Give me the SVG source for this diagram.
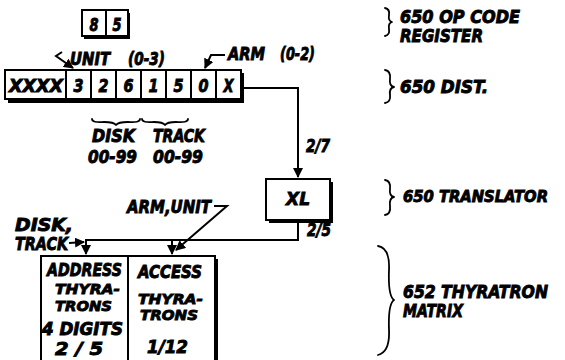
<svg xmlns="http://www.w3.org/2000/svg" width="565" height="360" viewBox="0 0 565 360">
<defs>
<style>
text{font-family:"DejaVu Sans","Liberation Sans",sans-serif;font-weight:bold;font-style:italic;fill:#000;stroke:#000;stroke-width:0.9;font-size:17px}
.c{text-anchor:middle}
.s{font-size:14px}
.m{font-size:15px}
.box{fill:#fff;stroke:#000;stroke-width:2}
.sh{fill:#000}
.ln{fill:none;stroke:#000;stroke-width:2}
.br{fill:none;stroke:#000;stroke-width:1.8;stroke-linecap:round;stroke-linejoin:round}
</style>
<marker id="ah" viewBox="0 0 10 10" refX="9" refY="5" markerWidth="5" markerHeight="5" orient="auto"><path d="M0,0 L10,5 L0,10 z" fill="#000"/></marker>
</defs>
<rect width="565" height="360" fill="#fff"/>

<g id="opcode">
<rect class="sh" x="84" y="13" width="46" height="26"/>
<rect class="box" x="82" y="10" width="46" height="26"/>
<line class="ln" x1="106" y1="10" x2="106" y2="36"/>
<text class="c" x="94" y="31" textLength="9" lengthAdjust="spacingAndGlyphs">8</text>
<text class="c" x="117" y="31" textLength="9" lengthAdjust="spacingAndGlyphs">5</text>
</g>

<g id="dist">
<rect class="sh" x="8" y="73" width="236" height="30"/>
<rect class="box" x="5" y="70" width="236" height="29"/>
<g class="ln">
<line x1="66" y1="70" x2="66" y2="99"/><line x1="91" y1="70" x2="91" y2="99"/><line x1="116" y1="70" x2="116" y2="99"/><line x1="141" y1="70" x2="141" y2="99"/><line x1="166" y1="70" x2="166" y2="99"/><line x1="191" y1="70" x2="191" y2="99"/><line x1="216" y1="70" x2="216" y2="99"/>
</g>
<text class="c" x="36" y="92" textLength="54" lengthAdjust="spacingAndGlyphs">XXXX</text>
<text class="c" x="78.5" y="92" textLength="10" lengthAdjust="spacingAndGlyphs">3</text>
<text class="c" x="103.5" y="92" textLength="10" lengthAdjust="spacingAndGlyphs">2</text>
<text class="c" x="128.5" y="92" textLength="10" lengthAdjust="spacingAndGlyphs">6</text>
<text class="c" x="153.5" y="92" textLength="10" lengthAdjust="spacingAndGlyphs">1</text>
<text class="c" x="178.5" y="92" textLength="10" lengthAdjust="spacingAndGlyphs">5</text>
<text class="c" x="203.5" y="92" textLength="10" lengthAdjust="spacingAndGlyphs">0</text>
<text class="c" x="228.5" y="92" textLength="10" lengthAdjust="spacingAndGlyphs">X</text>
</g>

<g id="unit-label">
<text x="70" y="65" textLength="40" lengthAdjust="spacingAndGlyphs">UNIT</text>
<text x="128" y="65" textLength="37" lengthAdjust="spacingAndGlyphs">(0-3)</text>
<path class="ln" d="M62,52 L56,56 L73,68" marker-end="url(#ah)"/>
</g>
<g id="arm-label">
<text x="228" y="60" textLength="37" lengthAdjust="spacingAndGlyphs">ARM</text>
<text x="280" y="60" textLength="35" lengthAdjust="spacingAndGlyphs">(0-2)</text>
<path class="ln" d="M225,55 L211,55 L205,68" marker-end="url(#ah)"/>
</g>

<g id="disk-track">
<path class="br" d="M92,119 Q92,123 104,122 Q114,122 116,125 Q118,122 128,122 Q140,123 140,119"/>
<path class="br" d="M142,119 Q142,123 154,122 Q163,122 165,125 Q167,122 176,122 Q188,123 188,119"/>
<text x="92" y="142" textLength="43" lengthAdjust="spacingAndGlyphs">DISK</text>
<text x="153" y="142" textLength="52" lengthAdjust="spacingAndGlyphs">TRACK</text>
<text x="88" y="163" textLength="49" lengthAdjust="spacingAndGlyphs">00-99</text>
<text x="153" y="163" textLength="50" lengthAdjust="spacingAndGlyphs">00-99</text>
</g>

<g id="xl">
<rect class="sh" x="269" y="182" width="64" height="41"/>
<rect class="box" x="266" y="179" width="64" height="41"/>
<text class="c" x="298" y="205" textLength="24" lengthAdjust="spacingAndGlyphs">XL</text>
</g>

<g id="matrix">
<rect class="sh" x="44" y="259" width="174" height="110"/>
<rect class="box" x="41" y="256" width="174" height="112"/>
<line class="ln" x1="128" y1="256" x2="128" y2="362"/>
<text class="c" x="84.5" y="276" textLength="75" lengthAdjust="spacingAndGlyphs">ADDRESS</text>
<text class="c s" x="87.5" y="294" textLength="65" lengthAdjust="spacingAndGlyphs">THYRA-</text>
<text class="c s" x="83.5" y="311" textLength="57" lengthAdjust="spacingAndGlyphs">TRONS</text>
<text class="c" x="82.5" y="335" textLength="81" lengthAdjust="spacingAndGlyphs">4 DIGITS</text>
<text class="c" x="79" y="355" textLength="48" lengthAdjust="spacingAndGlyphs">2 / 5</text>
<text class="c" x="170" y="278" textLength="64" lengthAdjust="spacingAndGlyphs">ACCESS</text>
<text class="c s" x="170.5" y="304" textLength="65" lengthAdjust="spacingAndGlyphs">THYRA-</text>
<text class="c s" x="169" y="320" textLength="58" lengthAdjust="spacingAndGlyphs">TRONS</text>
<text class="c" x="167.5" y="353" textLength="41" lengthAdjust="spacingAndGlyphs">1/12</text>
</g>

<g id="connectors">
<path class="ln" d="M242,88 L298,88 L298,177" marker-end="url(#ah)"/>
<path class="ln" d="M298,222 L298,240 L86,240 L86,254" marker-end="url(#ah)"/>
<path class="ln" d="M172,240 L172,254" marker-end="url(#ah)"/>
<path class="ln" d="M214,206 L227,206 L176,250" marker-end="url(#ah)"/>
<path class="ln" d="M69,243 L84,242" marker-end="url(#ah)"/>
<text x="306" y="152" textLength="24" lengthAdjust="spacingAndGlyphs">2/7</text>
<text x="307" y="236" textLength="24" lengthAdjust="spacingAndGlyphs">2/5</text>
<text x="127" y="213" textLength="84" lengthAdjust="spacingAndGlyphs">ARM,UNIT</text>
<text x="15" y="231" textLength="58" lengthAdjust="spacingAndGlyphs">DISK,</text>
<text x="15" y="250" textLength="53" lengthAdjust="spacingAndGlyphs">TRACK</text>
</g>

<g id="labels">
<path class="br" d="M385,8 Q390,9 389,15 Q388,21 392,22 Q388,23 389,29 Q390,35 385,36"/>
<text x="400" y="23" textLength="120" lengthAdjust="spacingAndGlyphs">650 OP CODE</text>
<text x="400" y="42" textLength="83" lengthAdjust="spacingAndGlyphs">REGISTER</text>
<path class="br" d="M385,70 Q391,71 390,79 Q389,86 394,87 Q389,88 390,95 Q391,102 385,103"/>
<text x="400" y="93" textLength="88" lengthAdjust="spacingAndGlyphs">650 DIST.</text>
<path class="br" d="M385,180 Q391,181 390,189 Q389,196 394,197 Q389,198 390,206 Q391,214 385,215"/>
<text class="m" x="403" y="202" textLength="145" lengthAdjust="spacingAndGlyphs">650 TRANSLATOR</text>
<path class="br" d="M378,246 Q390,248 389,270 Q388,296 394,300 Q388,304 389,330 Q390,352 378,355"/>
<text x="403" y="298" textLength="145" lengthAdjust="spacingAndGlyphs">652 THYRATRON</text>
<text x="403" y="317" textLength="60" lengthAdjust="spacingAndGlyphs">MATRIX</text>
</g>
</svg>
